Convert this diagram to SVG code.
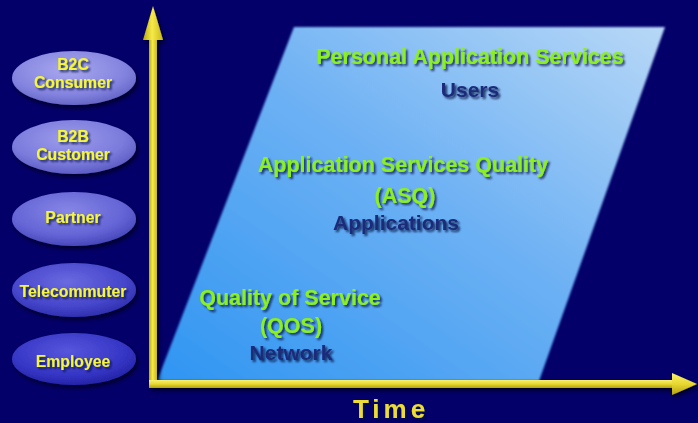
<svg xmlns="http://www.w3.org/2000/svg" width="698" height="423" viewBox="0 0 698 423">
  <defs>
    <linearGradient id="panelGrad" x1="1" y1="0" x2="0" y2="1">
      <stop offset="0" stop-color="#b8d8f6"/>
      <stop offset="0.45" stop-color="#6fb2f4"/>
      <stop offset="1" stop-color="#2f95f2"/>
    </linearGradient>
    <linearGradient id="axisV" x1="0" y1="0" x2="1" y2="0">
      <stop offset="0" stop-color="#b8a810"/>
      <stop offset="0.45" stop-color="#f6ea4a"/>
      <stop offset="1" stop-color="#c8b818"/>
    </linearGradient>
    <linearGradient id="axisH" x1="0" y1="0" x2="0" y2="1">
      <stop offset="0" stop-color="#f8f070"/>
      <stop offset="0.5" stop-color="#e8d830"/>
      <stop offset="1" stop-color="#b0a010"/>
    </linearGradient>
    <radialGradient id="g1" cx="0.45" cy="0.35" r="0.65">
      <stop offset="0" stop-color="#a8a8ee"/>
      <stop offset="0.7" stop-color="#8484e0"/>
      <stop offset="1" stop-color="#6666c8"/>
    </radialGradient>
    <radialGradient id="g2" cx="0.45" cy="0.35" r="0.65">
      <stop offset="0" stop-color="#9c9cec"/>
      <stop offset="0.7" stop-color="#7a7adc"/>
      <stop offset="1" stop-color="#5c5cc4"/>
    </radialGradient>
    <radialGradient id="g3" cx="0.45" cy="0.35" r="0.65">
      <stop offset="0" stop-color="#8686e6"/>
      <stop offset="0.7" stop-color="#6464d6"/>
      <stop offset="1" stop-color="#4848bc"/>
    </radialGradient>
    <radialGradient id="g4" cx="0.45" cy="0.35" r="0.65">
      <stop offset="0" stop-color="#6a6ae0"/>
      <stop offset="0.7" stop-color="#4646cc"/>
      <stop offset="1" stop-color="#3030b0"/>
    </radialGradient>
    <radialGradient id="g5" cx="0.45" cy="0.35" r="0.65">
      <stop offset="0" stop-color="#5656dc"/>
      <stop offset="0.7" stop-color="#3636c6"/>
      <stop offset="1" stop-color="#2424a8"/>
    </radialGradient>
    <filter id="shadow" x="-20%" y="-20%" width="150%" height="160%">
      <feDropShadow dx="2" dy="3" stdDeviation="2" flood-color="#000020" flood-opacity="0.85"/>
    </filter>
    <filter id="txtShadow" x="-10%" y="-30%" width="120%" height="180%">
      <feDropShadow dx="2" dy="2" stdDeviation="1.2" flood-color="#001040" flood-opacity="0.8"/>
    </filter>
    <filter id="soft" x="-5%" y="-5%" width="110%" height="110%">
      <feGaussianBlur stdDeviation="0.8"/>
    </filter>
  </defs>
  <style>
    .lbl { font-family: "Liberation Sans", Arial, sans-serif; font-weight: bold; text-anchor: middle; }
    .node text { fill: #f6f638; font-size: 15.8px; filter: url(#txtShadow); }
    .node ellipse { filter: url(#shadow); }
    .green { fill: #8cf01e; font-size: 21.5px; filter: url(#txtShadow); }
    .navy { fill: #1c2a7a; font-size: 21px; filter: url(#txtShadow); }
  </style>

  <!-- background -->
  <rect width="698" height="423" fill="#03006a"/>

  <!-- sloped panel -->
  <g id="panel">
    <polygon points="294,27 665,27 539,381 157,381" fill="url(#panelGrad)" filter="url(#soft)"/>
    <text class="lbl green" x="470" y="64">Personal Application Services</text>
    <text class="lbl navy" x="470" y="97">Users</text>
    <text class="lbl green" x="403" y="172">Application Services Quality</text>
    <text class="lbl green" x="405" y="203">(ASQ)</text>
    <text class="lbl navy" x="396" y="230">Applications</text>
    <text class="lbl green" x="290" y="305">Quality of Service</text>
    <text class="lbl green" x="291" y="333">(QOS)</text>
    <text class="lbl navy" x="291" y="360">Network</text>
  </g>

  <!-- axes -->
  <g id="axes" filter="url(#shadow)">
    <rect x="149" y="38" width="8" height="350" fill="url(#axisV)"/>
    <polygon points="153,6 163,40 143,40" fill="url(#axisV)"/>
    <rect x="149" y="380" width="525" height="8" fill="url(#axisH)"/>
    <polygon points="697,384 672,373 672,395" fill="url(#axisH)"/>
  </g>
  <text class="lbl" x="391" y="418" fill="#ecdc36" font-size="26" letter-spacing="4" filter="url(#txtShadow)">Time</text>

  <!-- user groups -->
  <g id="b2c" class="node">
    <ellipse cx="74" cy="78" rx="62" ry="27" fill="url(#g1)"/>
    <text class="lbl" x="73" y="70">B2C</text>
    <text class="lbl" x="73" y="88">Consumer</text>
  </g>
  <g id="b2b" class="node">
    <ellipse cx="74" cy="147" rx="62" ry="27" fill="url(#g2)"/>
    <text class="lbl" x="73" y="142">B2B</text>
    <text class="lbl" x="73" y="160">Customer</text>
  </g>
  <g id="partner" class="node">
    <ellipse cx="74" cy="219" rx="62" ry="27" fill="url(#g3)"/>
    <text class="lbl" x="73" y="223">Partner</text>
  </g>
  <g id="telecommuter" class="node">
    <ellipse cx="74" cy="290" rx="62" ry="27" fill="url(#g4)"/>
    <text class="lbl" x="73" y="297">Telecommuter</text>
  </g>
  <g id="employee" class="node">
    <ellipse cx="74" cy="359" rx="62" ry="26" fill="url(#g5)"/>
    <text class="lbl" x="73" y="367">Employee</text>
  </g>
</svg>
